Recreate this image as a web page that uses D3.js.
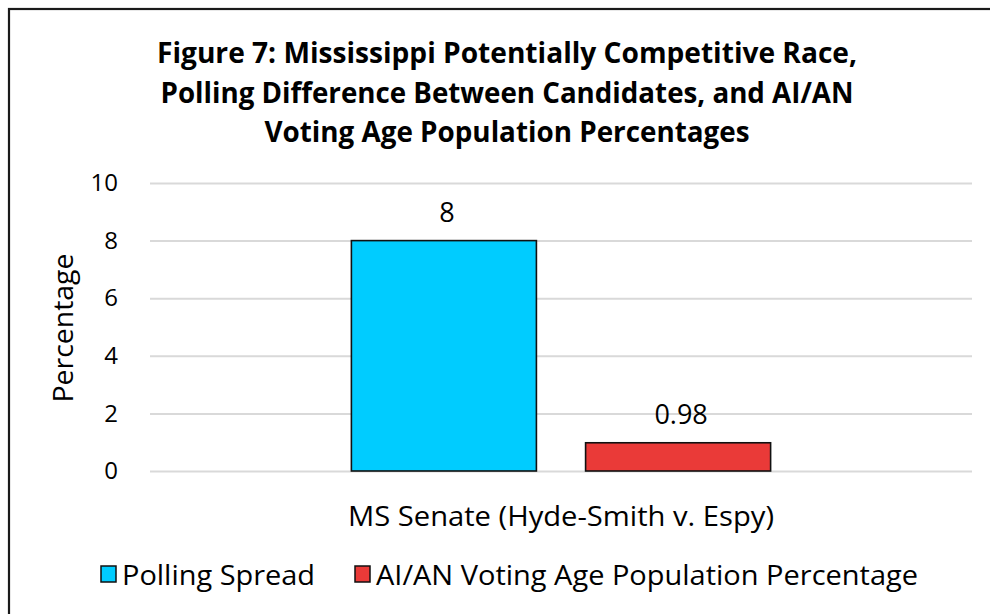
<!DOCTYPE html>
<html>
<head>
<meta charset="utf-8">
<script src="https://cdn.jsdelivr.net/npm/d3@7"></script>
<style>
  html, body { margin: 0; padding: 0; background: #fff; }
  svg { display: block; }
  text { font-family: "Open Sans", "Noto Sans", sans-serif; fill: #000; }
</style>
</head>
<body>
<svg id="chart" width="990" height="614"></svg>
<script>
// Chart data
const titleLines = [
  "Figure 7: Mississippi Potentially Competitive Race,",
  "Polling Difference Between Candidates, and AI/AN",
  "Voting Age Population Percentages"
];
const categories = ["MS Senate (Hyde-Smith v. Espy)"];
const seriesNames = ["Polling Spread", "AI/AN Voting Age Population Percentage"];
const seriesColors = ["#00CCFF", "#EA3A38"];
const pollingSpread = [8];
const aianVapPercentage = [0.98];
const yTicks = [0, 2, 4, 6, 8, 10];
const yLabel = "Percentage";

const seriesValues = [pollingSpread, aianVapPercentage];

const svg = d3.select("#chart");
const plot = { left: 150, right: 972, top: 183, bottom: 471 };

// Squeeze a text element to a given width when it runs wider
function fitWidth(sel, w) {
  sel.each(function () {
    const len = this.getComputedTextLength();
    if (Math.abs(len - w) > 1) {
      d3.select(this).attr("textLength", w).attr("lengthAdjust", "spacingAndGlyphs");
    }
  });
}

// Outer frame of the figure
svg.append("rect")
  .attr("x", 9).attr("y", 9)
  .attr("width", 1100).attr("height", 800)
  .attr("fill", "none").attr("stroke", "#1a1a1a").attr("stroke-width", 2.2);

// Title
const titleWidths = [700, 693, 485];
svg.append("g").selectAll("text")
  .data(titleLines)
  .join("text")
  .attr("x", 507)
  .attr("y", (d, i) => 63 + i * 39.5)
  .attr("text-anchor", "middle")
  .attr("font-size", 29)
  .attr("font-weight", "bold")
  .text(d => d)
  .each(function (d, i) { fitWidth(d3.select(this), titleWidths[i]); });

// Scales
const y = d3.scaleLinear().domain([0, 10]).range([plot.bottom, plot.top]);
const x0 = d3.scaleBand().domain(categories).range([plot.left, plot.right]).padding(0);
const groupW = x0.bandwidth();
const x1 = d3.scaleBand()
  .domain(seriesNames)
  .range([groupW * 0.245, groupW * 0.755])
  .paddingInner(0.21)
  .paddingOuter(0);

// Gridlines and tick labels
const yAxis = d3.axisLeft(y)
  .tickValues(yTicks)
  .tickSize(-(plot.right - plot.left))
  .tickPadding(32)
  .tickFormat(d3.format("d"));

const gy = svg.append("g")
  .attr("transform", `translate(${plot.left},0)`)
  .call(yAxis);
gy.select(".domain").remove();
gy.selectAll(".tick line").attr("stroke", "#d9d9d9").attr("stroke-width", 2);
gy.selectAll(".tick text")
  .attr("font-size", 24)
  .attr("font-family", "'Open Sans', sans-serif")
  .attr("fill", "#000");

// Bars
const groups = svg.append("g").selectAll("g")
  .data(categories)
  .join("g")
  .attr("transform", d => `translate(${x0(d)},0)`);

const barData = (c, ci) => seriesNames.map((s, si) => ({ s, si, v: seriesValues[si][ci] }));

groups.selectAll("rect")
  .data((c, ci) => barData(c, ci))
  .join("rect")
  .attr("x", d => x1(d.s))
  .attr("width", x1.bandwidth())
  .attr("y", d => y(d.v))
  .attr("height", d => y(0) - y(d.v))
  .attr("fill", d => seriesColors[d.si])
  .attr("stroke", "#111")
  .attr("stroke-width", 1.6);

// Value labels
groups.selectAll("text.value")
  .data((c, ci) => barData(c, ci))
  .join("text")
  .attr("class", "value")
  .attr("x", d => x1(d.s) + x1.bandwidth() / 2 + 3)
  .attr("y", d => y(d.v) - 19)
  .attr("text-anchor", "middle")
  .attr("font-size", 27)
  .text(d => String(d.v));

// Category label
svg.append("g").selectAll("text")
  .data(categories)
  .join("text")
  .attr("x", d => x0(d) + groupW / 2)
  .attr("y", 526)
  .attr("text-anchor", "middle")
  .attr("font-size", 27)
  .text(d => d)
  .call(fitWidth, 426);

// Y-axis title
svg.append("text")
  .attr("transform", "translate(73,328) rotate(-90)")
  .attr("text-anchor", "middle")
  .attr("font-size", 27)
  .text(yLabel)
  .call(fitWidth, 149);

// Legend
const legendX = [101, 355];
const legendTextW = [193, 542];
const legend = svg.append("g").selectAll("g")
  .data(seriesNames)
  .join("g")
  .attr("transform", (d, i) => `translate(${legendX[i]},566)`);
legend.append("rect")
  .attr("width", 15).attr("height", 16)
  .attr("fill", (d, i) => seriesColors[i])
  .attr("stroke", "#111").attr("stroke-width", 1.5);
legend.append("text")
  .attr("x", 21).attr("y", 19)
  .attr("font-size", 27)
  .text(d => d)
  .each(function (d, i) { fitWidth(d3.select(this), legendTextW[i]); });
</script>
</body>
</html>
